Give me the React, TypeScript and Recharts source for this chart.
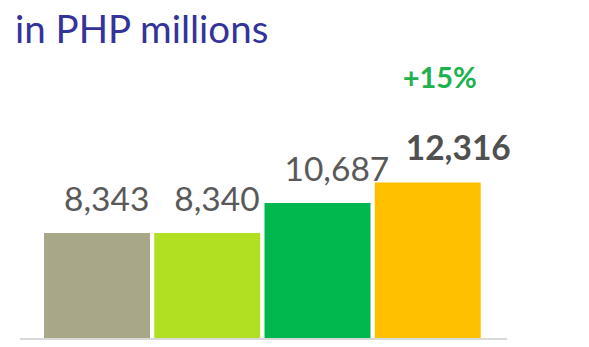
import { BarChart, Bar, XAxis, YAxis, Cell, LabelList } from "recharts";

const years = ["2019", "2020", "2021", "2022"];
const revenue = [8343, 8340, 10687, 12316];
const growth = ["", "", "", "+15%"];
const colors = ["#a8a888", "#b1df22", "#00b84e", "#ffc000"];

const data = years.map((year, i) => ({ year, value: revenue[i], growth: growth[i] }));

const FONT = "Lato, 'Open Sans', sans-serif";

const ValueLabel = (props: any) => {
  const { x, y, value, index } = props;
  const last = index === data.length - 1;
  return (
    <g>
      <text
        x={x + (last ? 31 : 20)}
        y={y - 22}
        textAnchor="start"
        fontFamily={FONT}
        fontSize={33.5}
        fontWeight={last ? 700 : 400}
        fill={last ? "#505050" : "#595959"}
      >
        {value.toLocaleString("en-US")}
      </text>
      {data[index].growth && (
        <text
          x={x + 65}
          y={y - 94}
          textAnchor="middle"
          fontFamily={FONT}
          fontSize={29}
          fontWeight={700}
          fill="#1db24f"
        >
          {data[index].growth}
        </text>
      )}
    </g>
  );
};

export default function App() {
  return (
    <div style={{ position: "absolute", left: 0, top: 0, width: 589, height: 347, background: "#fff" }}>
      <BarChart
        width={589}
        height={347}
        data={data}
        margin={{ top: 161, right: 82, left: 20, bottom: 7 }}
        barSize={106}
      >
        <text x={15} y={43} fontFamily={FONT} fontSize={38.5} fill="#333399">
          in PHP millions
        </text>
        <XAxis
          dataKey="year"
          height={1}
          tick={false}
          tickLine={false}
          axisLine={{ stroke: "#d9d9d9", strokeWidth: 2 }}
          padding={{ left: 22, right: 24 }}
        />
        <YAxis hide width={0} domain={[0, 14000]} />
        <Bar dataKey="value" isAnimationActive={false}>
          {data.map((d, i) => (
            <Cell key={d.year} fill={colors[i]} />
          ))}
          <LabelList dataKey="value" content={ValueLabel} />
        </Bar>
      </BarChart>
    </div>
  );
}
